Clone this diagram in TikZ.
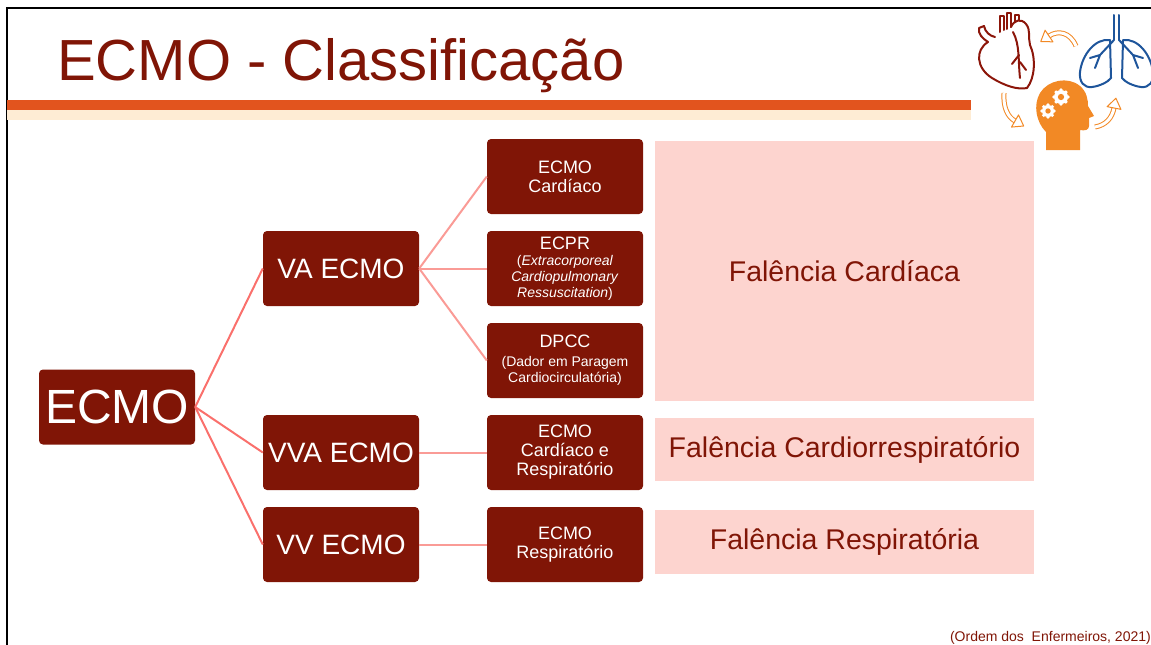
\documentclass[tikz,border=0pt]{standalone}
\usepackage{fontspec}
\setmainfont{Liberation Sans}
\usetikzlibrary{matrix}
\definecolor{ecmored}{RGB}{128,21,6}
\definecolor{failpink}{RGB}{253,212,207}
\definecolor{linkred}{RGB}{250,112,108}
\definecolor{sublinkred}{RGB}{250,155,150}
\definecolor{barorange}{RGB}{226,84,30}
\definecolor{barcream}{RGB}{254,236,212}
\definecolor{iconorange}{RGB}{242,137,37}
\definecolor{heartred}{RGB}{140,22,10}
\definecolor{lungblue}{RGB}{30,85,155}
\newcommand{\hd}{\fontsize{18}{19}\selectfont}
\newcommand{\sm}{\fontsize{14}{16}\selectfont}
\newcommand{\bg}{\fontsize{28}{30}\selectfont}

\begin{document}
\begin{tikzpicture}[x=1pt,y=-1pt,
  ecmobox/.style={fill=ecmored,text=white,rounded corners=4pt,align=center,inner sep=0pt,minimum width=156pt,minimum height=75pt,font=\hd},
  fail/.style={fill=failpink,text=ecmored,inner sep=0pt,minimum width=379pt,font=\fontsize{28.5}{30}\selectfont},
  link/.style={draw=linkred,line width=2pt},
  sublink/.style={draw=sublinkred,line width=2pt},
  cue/.style={draw=iconorange,line width=1pt,double=white,double distance=3pt},
  cuetip/.style={draw=iconorange,fill=white,line width=1pt,line join=round}]
\useasboundingbox (0,0) rectangle (1151,645);
\draw[line width=2.5pt] (7,645) -- (7,8) -- (1151,8);
\fill[barorange] (7,100) rectangle (971,110);
\fill[barcream] (7,110) rectangle (971,120);
\node[anchor=base west,text=ecmored,font=\fontsize{58}{60}\selectfont,inner sep=0pt] (title) at (57,80) {ECMO - Classificação};

\node[ecmobox,font=\fontsize{48}{50}\selectfont] (ecmo) at (117,407) {ECMO};
\matrix (c) [row sep=17pt, column sep=68pt] at (453,360.5)
{
  & \node[ecmobox] (card) {ECMO\\Cardíaco}; \\
  \node[ecmobox,font=\bg] (va) {VA ECMO}; &
  \node[ecmobox] (ecpr) {ECPR\\[-3pt]\sm(\textit{Extracorporeal}\\[-3pt]\sm\textit{Cardiopulmonary}\\[-3pt]\sm\textit{Ressuscitation})}; \\
  & \node[ecmobox] (dpcc) {DPCC\\\sm(Dador em Paragem\\[-3pt]\sm Cardiocirculatória)}; \\
  \node[ecmobox,font=\bg] (vva) {VVA ECMO}; & \node[ecmobox] (cardresp) {ECMO\\Cardíaco e\\Respiratório}; \\
  \node[ecmobox,font=\bg] (vv) {VV ECMO}; & \node[ecmobox] (respbox) {ECMO\\Respiratório}; \\
};
\path[link]
  (ecmo.east) edge (va.west) edge (vva.west) edge (vv.west);
\path[sublink]
  (va.east) edge (card.west) edge (ecpr.west) edge (dpcc.west)
  (vva.east) edge (cardresp.west)
  (vv.east) edge (respbox.west);

\node[fail,minimum height=260pt] (cardiac) at (844.5,271) {Falência Cardíaca};
\node[fail,minimum height=63pt] (cardioresp) at (844.5,449.5) {Falência Cardiorrespiratório};
\node[fail,minimum height=64pt] (resp) at (844.5,542) {Falência Respiratória};

\node[anchor=base east,text=ecmored,font=\fontsize{14}{16}\selectfont,inner sep=0pt] (cite) at (1151,641) {(Ordem dos~~Enfermeiros, 2021)};

% heart
\begin{scope}[draw=heartred,line width=2pt,line cap=round,line join=round]
  \draw (988,42) .. controls (975,50) and (976,68) .. (992,78) .. controls (1005,86) and (1018,90) .. (1027,88)
    .. controls (1035,78) and (1036,58) .. (1030,45) .. controls (1028,38) and (1031,30) .. (1026,24)
    .. controls (1021,18) and (1014,20) .. (1011,27);
  \draw (1000,32) -- (1000,16) -- (1004,16) -- (1004,30);
  \draw (1007,29) -- (1007,13) -- (1011,13) -- (1011,27);
  \draw (1015,22) -- (1015,15) -- (1019,15) -- (1019,20);
  \draw (988,42) .. controls (982,38) and (978,34) .. (979,28) -- (984,26) .. controls (985,32) and (990,36) .. (995,37);
  \draw (1013,32) .. controls (1020,45) and (1018,60) .. (1020,78);
  \draw (1019,55) -- (1012,64);
  \draw (1020,62) -- (1026,70);
\end{scope}
% lungs
\begin{scope}[draw=lungblue,line width=2pt,line cap=round,line join=round]
  \draw (1110,40) .. controls (1095,38) and (1082,55) .. (1080,72) .. controls (1079,82) and (1084,88) .. (1092,87)
    .. controls (1100,86) and (1108,82) .. (1111,78) -- cycle;
  \draw (1123,40) .. controls (1138,38) and (1151,55) .. (1153,72) .. controls (1154,82) and (1149,88) .. (1141,87)
    .. controls (1133,86) and (1125,82) .. (1122,78) -- cycle;
  \draw (1114,15) -- (1114,40) (1119,15) -- (1119,40);
  \draw (1114,40) -- (1100,55) -- (1095,68) (1100,55) -- (1090,58);
  \draw (1119,40) -- (1133,55) -- (1138,68) (1133,55) -- (1143,58);
\end{scope}
% head with gears
\fill[iconorange] (1046,150) -- (1046,132) .. controls (1036,122) and (1033,105) .. (1040,93)
  .. controls (1048,80) and (1068,76) .. (1080,86) .. controls (1087,92) and (1088,100) .. (1088,106)
  -- (1094,116) -- (1089,118) -- (1089,126) .. controls (1089,130) and (1085,131) .. (1080,130)
  -- (1080,150) -- cycle;
\foreach \gx/\gy/\gr in {1061/97/7,1048/111/6} {
  \foreach \a in {0,45,...,315}
    \fill[white] (\gx,\gy) ++(\a:\gr) circle (1.8);
  \fill[white] (\gx,\gy) circle (\gr);
  \fill[iconorange] (\gx,\gy) circle (0.45*\gr);
}
% arrows between the icons
\draw[cue] (1076,46) .. controls (1070,32) and (1058,30) .. (1049,36);
\draw[cuetip,shift={(1049,36)},rotate=214] (0,-7) -- (10,0) -- (0,7) -- cycle;
\draw[cue] (1004,93) .. controls (1003,108) and (1008,117) .. (1015,121);
\draw[cuetip,shift={(1015,121)},rotate=-30] (0,-7) -- (10,0) -- (0,7) -- cycle;
\draw[cue] (1095,127) .. controls (1106,125) and (1112,118) .. (1114,108);
\draw[cuetip,shift={(1114,108)},rotate=79] (0,-7) -- (10,0) -- (0,7) -- cycle;
\end{tikzpicture}
\end{document}
